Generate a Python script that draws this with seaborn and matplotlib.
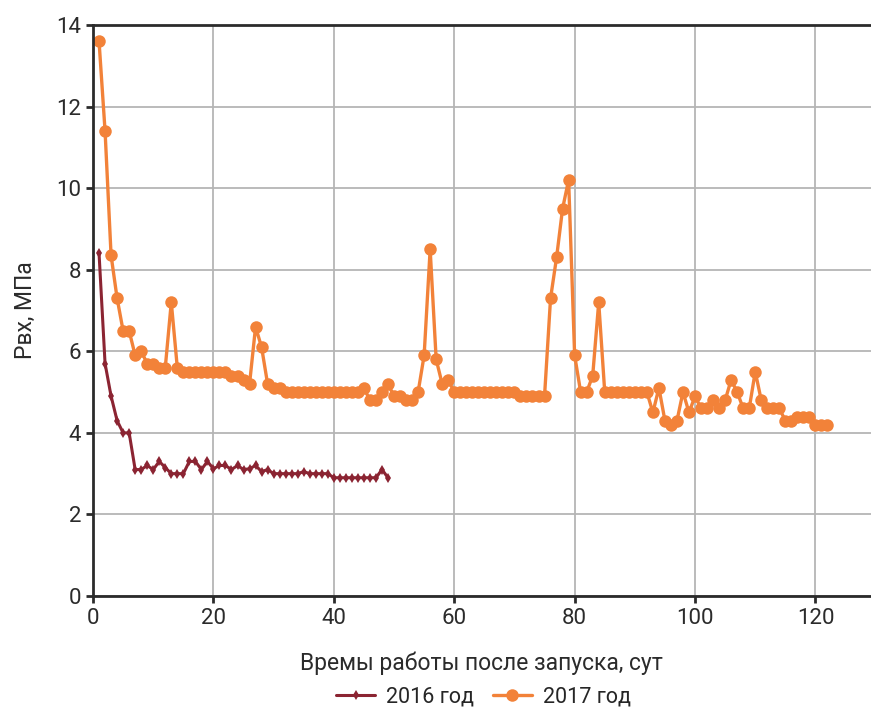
import numpy as np
import pandas as pd
import matplotlib
matplotlib.use("Agg")
import matplotlib.pyplot as plt
import seaborn as sns

# data
days_2016 = list(range(1, 50))
p_2016 = [8.4, 5.7, 4.9, 4.3, 4.0, 4.0, 3.1, 3.1, 3.2, 3.1,
          3.3, 3.15, 3.0, 3.0, 3.0, 3.3, 3.3, 3.1, 3.3, 3.12,
          3.2, 3.2, 3.1, 3.2, 3.1, 3.12, 3.2, 3.05, 3.1, 3.0,
          3.0, 3.0, 3.0, 3.0, 3.05, 3.0, 3.0, 3.0, 3.0, 2.9,
          2.9, 2.9, 2.9, 2.9, 2.9, 2.9, 2.9, 3.1, 2.9]

days_2017 = list(range(1, 123))
p_2017 = [13.6, 11.4, 8.35, 7.3, 6.5, 6.5, 5.9, 6.0, 5.7, 5.7,
          5.6, 5.6, 7.2, 5.6, 5.5, 5.5, 5.5, 5.5, 5.5, 5.5,
          5.5, 5.5, 5.4, 5.4, 5.3, 5.2, 6.6, 6.1, 5.2, 5.1,
          5.1, 5.0, 5.0, 5.0, 5.0, 5.0, 5.0, 5.0, 5.0, 5.0,
          5.0, 5.0, 5.0, 5.0, 5.1, 4.8, 4.8, 5.0, 5.2, 4.9,
          4.9, 4.8, 4.8, 5.0, 5.9, 8.5, 5.8, 5.2, 5.3, 5.0,
          5.0, 5.0, 5.0, 5.0, 5.0, 5.0, 5.0, 5.0, 5.0, 5.0,
          4.9, 4.9, 4.9, 4.9, 4.9, 7.3, 8.3, 9.5, 10.2, 5.9,
          5.0, 5.0, 5.4, 7.2, 5.0, 5.0, 5.0, 5.0, 5.0, 5.0,
          5.0, 5.0, 4.5, 5.1, 4.3, 4.2, 4.3, 5.0, 4.5, 4.9,
          4.6, 4.6, 4.8, 4.6, 4.8, 5.3, 5.0, 4.6, 4.6, 5.5,
          4.8, 4.6, 4.6, 4.6, 4.3, 4.3, 4.4, 4.4, 4.4, 4.2,
          4.2, 4.2]

x_ticks = [0, 20, 40, 60, 80, 100, 120]
y_ticks = [0, 2, 4, 6, 8, 10, 12, 14]

df16 = pd.DataFrame({"day": days_2016, "p": p_2016})
df17 = pd.DataFrame({"day": days_2017, "p": p_2017})

sns.set_theme(style="white")
plt.rcParams["font.family"] = ["Roboto", "DejaVu Sans"]

fig = plt.figure(figsize=(8.71, 7.07), dpi=100)
ax = fig.add_axes([0.1068, 0.157, 0.893, 0.8076])

sns.lineplot(data=df16, x="day", y="p", ax=ax, color="#8b2432", lw=2.2,
             marker="d", markersize=5, markeredgewidth=0, label="2016 год", zorder=3)
sns.lineplot(data=df17, x="day", y="p", ax=ax, color="#f28239", lw=2.4,
             marker="o", markersize=9, markeredgewidth=0, label="2017 год", zorder=2)

ax.set_xlim(0, 129.2)
ax.set_ylim(0, 14)
ax.set_xticks(x_ticks)
ax.set_yticks(y_ticks)
ax.grid(True, color="#b5b5b5", lw=1.3)
ax.set_axisbelow(True)

for s in ["left", "bottom", "top"]:
    ax.spines[s].set_color("#2b2b2b")
    ax.spines[s].set_linewidth(2)
ax.spines["right"].set_visible(False)

ax.tick_params(axis="both", labelsize=16, colors="#2b2b2b", length=5, width=2,
               direction="out", bottom=True, left=True)
ax.set_xlabel("Времы работы после запуска, сут", fontsize=16.5, color="#2b2b2b", labelpad=16)
ax.set_ylabel("Рвх, МПа", fontsize=16.5, color="#2b2b2b", labelpad=14)

ax.legend(loc="upper center", bbox_to_anchor=(0.555, 0.05), bbox_transform=fig.transFigure,
          ncol=2, frameon=False, fontsize=15.5, handlelength=1.8, columnspacing=0.9,
          handletextpad=0.5, borderpad=0.2)

fig.savefig("out.png", dpi=100)
